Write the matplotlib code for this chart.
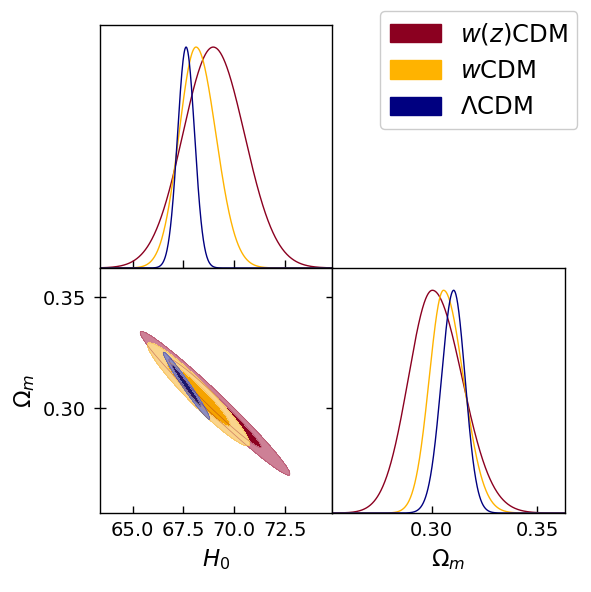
import numpy as np
import matplotlib
matplotlib.use('Agg')
import matplotlib.pyplot as plt
from matplotlib.patches import Patch
from matplotlib.ticker import FormatStrFormatter

labels = [r'$w(z)$CDM', r'$w$CDM', r'$\Lambda$CDM']
line_colors = ['#8B0020', '#FFB300', '#000080']
inner_colors = ['#8B0020', '#F5A300', '#17176E']
outer_colors = ['#CD8096', '#FAD48C', '#8C8CC3']

# 1D marginals: peak and left / right widths
h0_peak = [68.97, 68.12, 67.63]
h0_sig_lo = [1.50, 0.84, 0.42]
h0_sig_hi = [1.54, 0.98, 0.42]
om_peak = [0.3003, 0.3056, 0.3104]
om_sig_lo = [0.0114, 0.0068, 0.0058]
om_sig_hi = [0.0141, 0.0094, 0.0054]

# 2D contours: centre, widths, correlation
h0_cen = [69.06, 68.25, 67.65]
om_cen = [0.3022, 0.3062, 0.3101]
h0_sig = [1.51, 1.03, 0.47]
om_sig = [0.01325, 0.0095, 0.0062]
rho = [-0.982, -0.955, -0.98]

h0_lim = (63.36, 74.83)
om_lim = (0.2527, 0.3632)
h0_ticks = [65.0, 67.5, 70.0, 72.5]
om_ticks = [0.30, 0.35]

fs = 14
fs_lab = 16.5
fs_leg = 17.5


def split_normal(x, m, s_lo, s_hi):
    s = np.where(x < m, s_lo, s_hi)
    return np.exp(-0.5 * ((x - m) / s) ** 2)


fig = plt.figure(figsize=(5.91, 5.92), dpi=100)
L, M, R = 0.1684, 0.5618, 0.956
B, C, T = 0.1334, 0.5473, 0.9578
ax00 = fig.add_axes([L, C, M - L, T - C])
ax10 = fig.add_axes([L, B, M - L, C - B])
ax11 = fig.add_axes([M, B, R - M, C - B])

for ax in (ax00, ax10, ax11):
    for sp in ax.spines.values():
        sp.set_linewidth(1.0)

# --- top: H0 marginals
xh = np.linspace(h0_lim[0], h0_lim[1], 800)
for i in range(3):
    ax00.plot(xh, split_normal(xh, h0_peak[i], h0_sig_lo[i], h0_sig_hi[i]),
              color=line_colors[i], lw=1.0)
ax00.set_xlim(h0_lim)
ax00.set_ylim(0, 1.1)
ax00.set_xticks(h0_ticks)
ax00.set_yticks([])
ax00.tick_params(axis='x', direction='inout', length=11, width=1.0,
                 labelbottom=False)

# --- bottom right: Omega_m marginals
xo = np.linspace(om_lim[0], om_lim[1], 800)
for i in range(3):
    ax11.plot(xo, split_normal(xo, om_peak[i], om_sig_lo[i], om_sig_hi[i]),
              color=line_colors[i], lw=1.0)
ax11.set_xlim(om_lim)
ax11.set_ylim(0, 1.1)
ax11.set_xticks(om_ticks)
ax11.xaxis.set_major_formatter(FormatStrFormatter('%.2f'))
ax11.set_yticks([])
ax11.tick_params(axis='x', direction='in', length=5, width=1.0,
                 labelsize=fs, pad=6)
ax11.set_xlabel(r'$\Omega_m$', fontsize=fs_lab, labelpad=5)

# --- bottom left: 2D contours
gx = np.linspace(h0_lim[0], h0_lim[1], 500)
gy = np.linspace(om_lim[0], om_lim[1], 500)
X, Y = np.meshgrid(gx, gy)
for i in range(3):
    u = (X - h0_cen[i]) / h0_sig[i]
    v = (Y - om_cen[i]) / om_sig[i]
    q = (u ** 2 - 2 * rho[i] * u * v + v ** 2) / (1 - rho[i] ** 2)
    ax10.contourf(X, Y, q, levels=[0, 2.28, 5.99],
                  colors=[inner_colors[i], outer_colors[i]])
    ax10.contour(X, Y, q, levels=[2.28, 5.99], colors=[inner_colors[i]],
                 linewidths=0.5, alpha=0.4)
ax10.set_xlim(h0_lim)
ax10.set_ylim(om_lim)
ax10.set_xticks(h0_ticks)
ax10.set_yticks(om_ticks)
ax10.xaxis.set_major_formatter(FormatStrFormatter('%.1f'))
ax10.yaxis.set_major_formatter(FormatStrFormatter('%.2f'))
ax10.tick_params(axis='x', direction='in', length=5, width=1.0,
                 labelsize=fs, pad=6)
ax10.tick_params(axis='y', which='both', direction='in', length=5, width=1.0,
                 labelsize=fs, pad=6)
ax10.tick_params(axis='y', right=True, direction='inout', length=8)
ax10.tick_params(axis='y', left=True)
ax10.set_xlabel(r'$H_0$', fontsize=fs_lab, labelpad=5)
ax10.set_ylabel(r'$\Omega_m$', fontsize=fs_lab, labelpad=4)

handles = [Patch(facecolor=c, edgecolor=c) for c in line_colors]
fig.legend(handles, labels, loc='upper right', bbox_to_anchor=(0.977, 0.981),
           fontsize=fs_leg, handlelength=2.1, handleheight=0.8,
           labelspacing=0.5, handletextpad=0.8, borderpad=0.4,
           borderaxespad=0.0, framealpha=1, edgecolor='#cccccc')

fig.savefig('out.png', dpi=100)
